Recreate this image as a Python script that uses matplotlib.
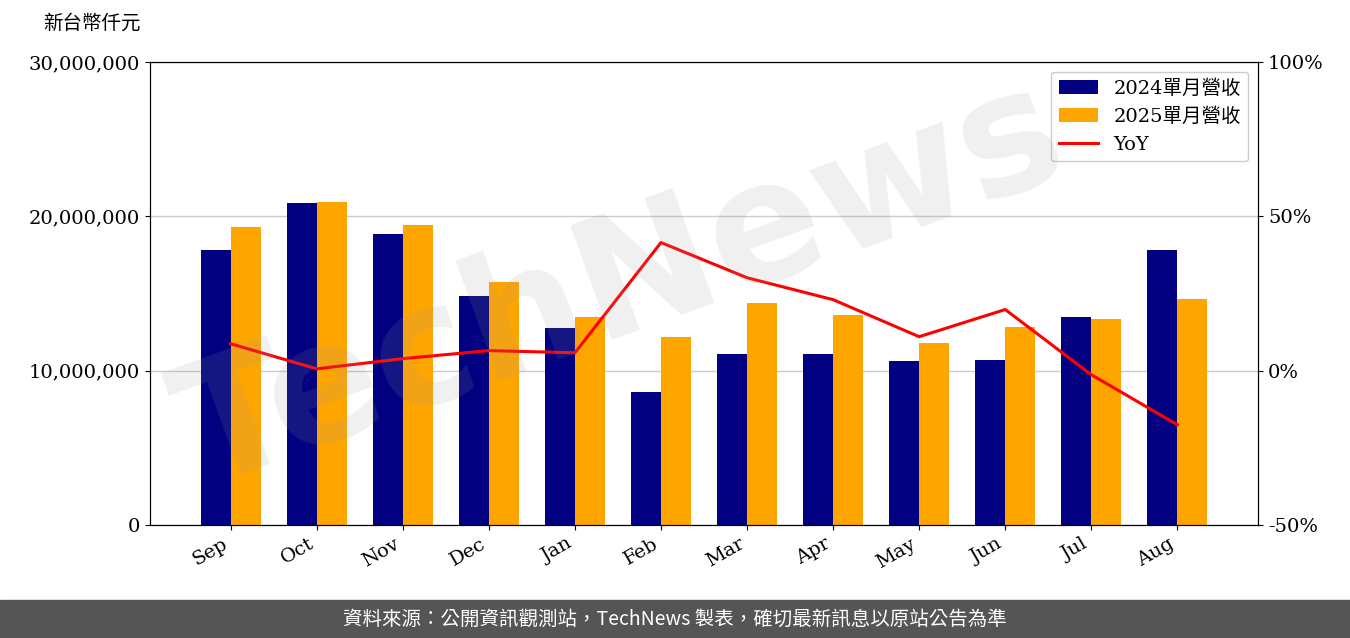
import matplotlib
matplotlib.use("Agg")
import matplotlib.pyplot as plt
import numpy as np

plt.rcParams['font.family'] = ['DejaVu Serif', 'Noto Sans CJK TC']

months = ["Sep","Oct","Nov","Dec","Jan","Feb","Mar","Apr","May","Jun","Jul","Aug"]
rev2024 = [17.80,20.87,18.86,14.84,12.77,8.62,11.08,11.08,10.63,10.69,13.48,17.82]
rev2025 = [19.31,20.93,19.44,15.75,13.48,12.18,14.39,13.61,11.80,12.83,13.35,14.65]
yoy = [8.7,0.6,3.9,6.5,5.8,41.5,30.1,23.0,11.0,19.8,-1.3,-17.5]

fig = plt.figure(figsize=(13.5,6.38), dpi=100)
ax = fig.add_axes([0.111,0.177,0.821,0.726])
x = np.arange(len(months))
w = 0.35
b1 = ax.bar(x-w/2, np.array(rev2024)*1e6, w, color='#000080', label='2024單月營收')
b2 = ax.bar(x+w/2, np.array(rev2025)*1e6, w, color='#FFA500', label='2025單月營收')
ax.set_ylim(0,30e6)
ax.set_yticks([0,10e6,20e6,30e6])
ax.set_yticklabels(['0','10,000,000','20,000,000','30,000,000'], fontsize=14)
ax.set_xlim(-0.94, 11.94)
ax.set_xticks(x)
ax.set_xticklabels(months, rotation=30, ha='right', fontsize=14)
ax.grid(axis='y', color='#cccccc', linewidth=1)
ax.set_axisbelow(True)
ax2 = ax.twinx()
l, = ax2.plot(x, yoy, color='red', linewidth=2.2, label='YoY')
ax2.set_ylim(-50,100)
ax2.set_yticks([-50,0,50,100])
ax2.set_yticklabels(['-50%','0%','50%','100%'], fontsize=14)
ax.legend(handles=[b1,b2,l], loc='upper right', fontsize=14, framealpha=1)
fig.text(0.032,0.955,'新台幣仟元', fontsize=14, family='Noto Sans CJK TC')

fig.text(0.46,0.55,'TechNews', fontsize=120, color='#999999', alpha=0.15,
         rotation=20, ha='center', va='center', family='DejaVu Sans', weight='bold')

fig.patches.append(plt.Rectangle((0,0),1,0.06,transform=fig.transFigure,color='#555555',zorder=-1))
fig.text(0.5,0.03,'資料來源：公開資訊觀測站，TechNews 製表，確切最新訊息以原站公告為準',
         color='white', fontsize=14, ha='center', va='center', family='Noto Sans CJK TC')
fig.savefig('out.png')
